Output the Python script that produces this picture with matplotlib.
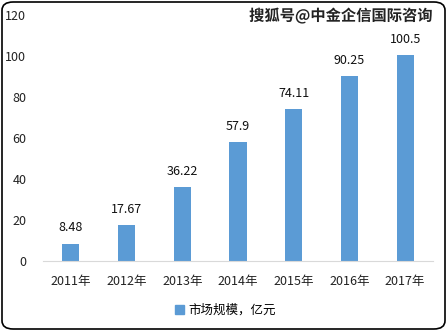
import matplotlib
matplotlib.use("Agg")
import matplotlib.pyplot as plt
from matplotlib.patches import FancyBboxPatch, Patch
import matplotlib.patheffects as pe

plt.rcParams['font.family'] = ['Noto Sans CJK SC', 'DejaVu Sans']

years = ["2011年", "2012年", "2013年", "2014年", "2015年", "2016年", "2017年"]
values = [8.48, 17.67, 36.22, 57.9, 74.11, 90.25, 100.5]
labels = ["8.48", "17.67", "36.22", "57.9", "74.11", "90.25", "100.5"]
yticks = [0, 20, 40, 60, 80, 100, 120]
series_name = "市场规模，亿元"
watermark = "搜狐号@中金企信国际咨询"

color = "#5B9BD5"
fig = plt.figure(figsize=(4.47, 3.31), dpi=100)
ax = fig.add_axes([43/447, 1-261/331, 390/447, 246/331])

x = list(range(len(years)))
ax.bar(x, values, width=0.31, color=color)
for xi, v, lb in zip(x, values, labels):
    ax.text(xi, v + 4.5, lb, ha='center', va='bottom', fontsize=9, color='#111111')

ax.set_xlim(-0.5, len(years) - 0.5)
ax.set_ylim(0, 120)
ax.set_yticks(yticks)
ax.set_xticks(x)
ax.set_xticklabels(years)
ax.tick_params(axis='both', length=0, labelsize=9, colors='#222222')
ax.tick_params(axis='y', pad=12)
ax.tick_params(axis='x', pad=10)
for s in ['top', 'right', 'left']:
    ax.spines[s].set_visible(False)
ax.spines['bottom'].set_color('#D9D9D9')

fig.legend(handles=[Patch(color=color, label=series_name)], loc='center',
           bbox_to_anchor=(0.505, 0.063), frameon=False, fontsize=9,
           handlelength=0.7, handleheight=0.7, handletextpad=0.4)

fig.text(0.967, 0.952, watermark, ha='right', va='center', fontsize=11,
         fontweight='bold', color='#222222',
         path_effects=[pe.withStroke(linewidth=2, foreground='white')])

border = FancyBboxPatch((2/447, 2/331), 443/447, 327/331,
                        boxstyle="round,pad=0,rounding_size=0.025",
                        transform=fig.transFigure, fill=False,
                        edgecolor='black', linewidth=1.2)
fig.patches.append(border)

fig.savefig("out.png", dpi=100)
